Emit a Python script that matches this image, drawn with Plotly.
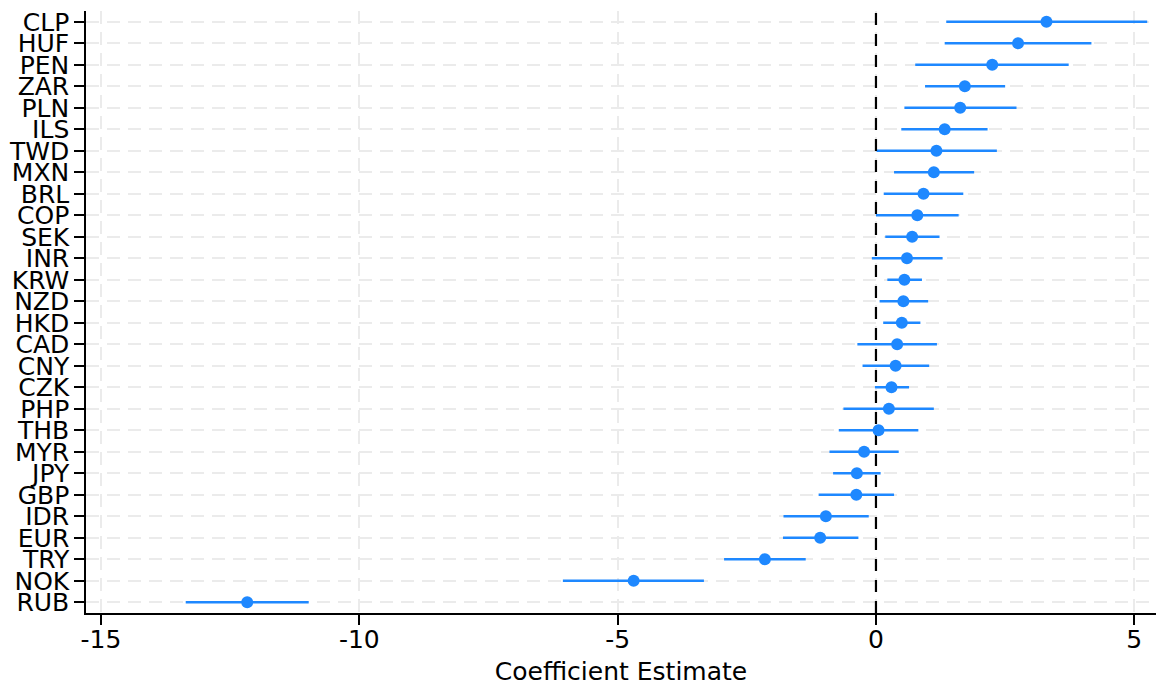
import plotly.graph_objects as go

currencies = ["RUB", "NOK", "TRY", "EUR", "IDR", "GBP", "JPY", "MYR", "THB", "PHP",
              "CZK", "CNY", "CAD", "HKD", "NZD", "KRW", "INR", "SEK", "COP", "BRL",
              "MXN", "TWD", "ILS", "PLN", "ZAR", "PEN", "HUF", "CLP"]
estimate = [-12.17, -4.69, -2.15, -1.08, -0.97, -0.38, -0.37, -0.23, 0.05, 0.25,
            0.30, 0.38, 0.41, 0.50, 0.53, 0.55, 0.60, 0.70, 0.80, 0.92,
            1.12, 1.17, 1.33, 1.63, 1.72, 2.25, 2.75, 3.30]
ci_low = [-13.36, -6.06, -2.94, -1.80, -1.79, -1.11, -0.83, -0.90, -0.72, -0.63,
          -0.02, -0.26, -0.36, 0.14, 0.07, 0.22, -0.08, 0.18, 0.00, 0.15,
          0.35, 0.01, 0.49, 0.55, 0.95, 0.76, 1.33, 1.36]
ci_high = [-10.98, -3.33, -1.36, -0.34, -0.14, 0.35, 0.09, 0.44, 0.82, 1.12,
           0.64, 1.03, 1.18, 0.86, 1.01, 0.89, 1.29, 1.23, 1.60, 1.69,
           1.90, 2.34, 2.16, 2.72, 2.50, 3.73, 4.17, 5.25]
x_ticks = [-15, -10, -5, 0, 5]

BLUE = "#1E88FF"
FONT = "DejaVu Sans"
ypos = list(range(len(currencies)))

fig = go.Figure()

# confidence interval lines
fig.add_trace(go.Scatter(
    x=estimate, y=ypos, mode="markers",
    marker=dict(size=1, opacity=0, color=BLUE),
    error_x=dict(type="data", symmetric=False,
                 array=[h - e for h, e in zip(ci_high, estimate)],
                 arrayminus=[e - l for e, l in zip(estimate, ci_low)],
                 color=BLUE, thickness=2.5, width=0),
    hoverinfo="skip", showlegend=False,
))

# zero reference line
fig.add_trace(go.Scatter(
    x=[0, 0], y=[-0.5, len(currencies) - 0.5], mode="lines",
    line=dict(color="black", width=2.2, dash="12px,9px"),
    hoverinfo="skip", showlegend=False,
))

# point estimates
fig.add_trace(go.Scatter(
    x=estimate, y=ypos, mode="markers",
    marker=dict(size=12, color=BLUE),
    showlegend=False,
))

fig.update_layout(
    width=1156, height=688,
    margin=dict(l=86, r=0, t=11, b=75),
    plot_bgcolor="white", paper_bgcolor="white",
    font=dict(family=FONT, size=25, color="black"),
)
fig.update_xaxes(
    range=[-15.29, 5.42], tickvals=x_ticks, ticktext=[str(v) for v in x_ticks],
    showline=True, linecolor="black", linewidth=1.5,
    ticks="outside", ticklen=10, tickwidth=1.5, tickcolor="black",
    showgrid=True, gridcolor="#EBEBEB", gridwidth=2, griddash="13px,8px",
    zeroline=False, ticklabelstandoff=-7,
    title=dict(text="Coefficient Estimate", font=dict(size=25), standoff=10),
    tickfont=dict(size=25),
)
fig.update_yaxes(
    range=[-0.5, len(currencies) - 0.5], tickvals=ypos, ticktext=currencies,
    showline=True, linecolor="black", linewidth=1.5,
    ticks="outside", ticklen=10, tickwidth=1.5, tickcolor="black",
    showgrid=True, gridcolor="#EBEBEB", gridwidth=2, griddash="13px,8px",
    zeroline=False, tickfont=dict(size=25),
)

fig.write_html("out.html")
